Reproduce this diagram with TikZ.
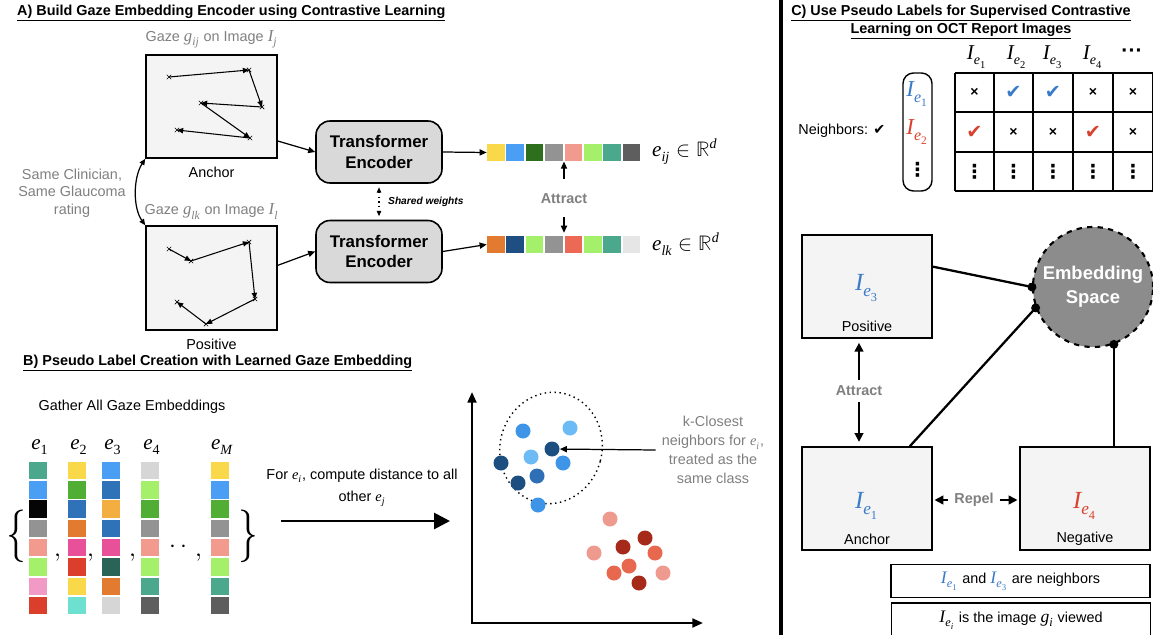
\documentclass[tikz,border=0pt]{standalone}
\usepackage{unicode-math}
\setmainfont{Liberation Sans}
\setmathfont{Latin Modern Math}
\setmathfont[range=it->up]{Liberation Serif Italic}
\setmathfont[range=up/num]{Liberation Serif}
\newfontfamily\symfont{DejaVu Sans}
\usetikzlibrary{arrows.meta,calc,positioning}
\definecolor{boxbg}{HTML}{F4F4F4}
\definecolor{encgray}{HTML}{D9D9D9}
\definecolor{txtgray}{HTML}{7F7F7F}
\definecolor{embgray}{HTML}{8C8C8C}
\definecolor{iblue}{HTML}{3A7BC8}
\definecolor{ired}{HTML}{D9412E}
\definecolor{cyel}{HTML}{F9D84A}
\definecolor{cblu}{HTML}{4A9FF5}
\definecolor{cdgr}{HTML}{2E6F1E}
\definecolor{cgry}{HTML}{939393}
\definecolor{csal}{HTML}{F29A8E}
\definecolor{clgr}{HTML}{A4F06A}
\definecolor{ctea}{HTML}{4BA88C}
\definecolor{cdgy}{HTML}{5E5E5E}
\definecolor{cora}{HTML}{E27A30}
\definecolor{cnav}{HTML}{1F4E82}
\definecolor{cred}{HTML}{EC6A55}
\definecolor{clgy}{HTML}{E6E6E6}
\definecolor{cblk}{HTML}{050505}
\definecolor{cpnk}{HTML}{F29AC6}
\definecolor{crd2}{HTML}{DB3E2A}
\definecolor{cgrn}{HTML}{4FAE33}
\definecolor{cmbl}{HTML}{3072B8}
\definecolor{cmag}{HTML}{E8509A}
\definecolor{ctur}{HTML}{6EE0CF}
\definecolor{camb}{HTML}{F2AE40}
\definecolor{cdtl}{HTML}{2A6358}
\definecolor{cgy2}{HTML}{D6D6D6}
\definecolor{dlb}{HTML}{6CBBF5}
\definecolor{dmb}{HTML}{3E95E8}
\definecolor{dnv}{HTML}{1C4F80}
\definecolor{dbl}{HTML}{2E6FB5}
\definecolor{dls}{HTML}{EF9A8E}
\definecolor{ddr}{HTML}{A52A1A}
\definecolor{dor}{HTML}{E8674F}
\newcommand{\pxu}{0.02cm}
\newcommand{\nx}{{\fontsize{8}{8}\selectfont\bfseries ×}}
\newcommand{\ckb}{{\symfont\fontsize{11}{11}\selectfont\color{iblue}✔}}
\newcommand{\ckr}{{\symfont\fontsize{11}{11}\selectfont\color{ired}✔}}
\newcommand{\vd}{{\symfont\fontsize{11}{11}\selectfont\bfseries ⋮}}

\begin{document}
\begin{tikzpicture}[x=\pxu,y=-\pxu,font=\fontsize{8.2}{10}\selectfont,
  gazebox/.style={draw,fill=boxbg,line width=0.9pt,inner sep=0pt,minimum width=131*\pxu,minimum height=103*\pxu},
  encbox/.style={draw,fill=encgray,rounded corners=8pt,line width=0.9pt,minimum width=126*\pxu,minimum height=62*\pxu,align=center,font=\fontsize{9.6}{11.5}\selectfont\bfseries},
  sq/.style={inner sep=0pt,minimum size=17.5*\pxu},
  gazeline/.style={line width=0.6pt,-{Triangle[length=3.5pt,width=3pt]}},
  arr/.style={line width=0.7pt,-{Triangle[length=4pt,width=3.5pt]}},
  arrb/.style={line width=1pt,-{Triangle[length=5pt,width=5pt]}},
  graytxt/.style={text=txtgray},
  att/.style={text=txtgray,font=\fontsize{8.2}{10}\selectfont\bfseries},
  dot/.style={circle,inner sep=0pt,minimum size=15*\pxu},
  imgbox/.style={draw,fill=boxbg,line width=0.9pt,inner sep=0pt,minimum width=130*\pxu,minimum height=103*\pxu},
  conn/.style={line width=1.3pt,-{Circle[length=5pt]},shorten >=-2.5pt},
  notebox/.style={draw,line width=0.9pt,inner sep=0pt,minimum width=259*\pxu,minimum height=33*\pxu},
  emath/.style={font=\fontsize{12}{14}\selectfont}]
  \useasboundingbox (0,0) rectangle (1153,635);

  %A) gaze encoder
  \node[anchor=west] (ttla) at (11,13) {\bfseries\underline{A) Build Gaze Embedding Encoder using Contrastive Learning}};
  \node[gazebox] (ga) at (211.5,106.5) {};
  \node[gazebox,minimum height=104*\pxu] (gp) at (211.5,278) {};
  \node[graytxt,above=0pt of ga] (gal) {Gaze {\fontsize{9.5}{10}\selectfont$g_{ij}$} on Image {\fontsize{9.5}{10}\selectfont$I_j$}};
  \node[graytxt,above=0pt of gp] (gpl) {Gaze {\fontsize{9.5}{10}\selectfont$g_{lk}$} on Image {\fontsize{9.5}{10}\selectfont$I_l$}};
  \node[below=1pt of ga] (anl) {Anchor};
  \node[below=1pt of gp] (pol) {Positive};
  \foreach \xa/\ya/\xb/\yb in {169/77/249/70,249/70/262/107,262/107/201/103,201/103/250/138,250/138/177/130,
    169/249/191/261,191/261/249/242,249/242/255/299,255/299/206/324,206/324/177/302}
    \draw[gazeline] (\xa,\ya) -- (\xb,\yb);
  \foreach \xa/\ya in {169/77,249/70,262/107,201/103,250/138,177/130,169/249,191/261,249/242,255/299,206/324,177/302}
    \draw[line width=0.4pt] (\xa,\ya) +(-2.2,-2.2) -- +(2.2,2.2) +(-2.2,2.2) -- +(2.2,-2.2);
  \draw[line width=0.7pt,{Triangle[length=3.5pt,width=3pt]}-{Triangle[length=3.5pt,width=3pt]}]
    (ga.south west) .. controls (133,178) and (133,208) .. (gp.north west);
  \node[graytxt,align=center] (clin) at (72,193) {Same Clinician,\\Same Glaucoma\\rating};
  \node[encbox] (enc1) at (379,152) {Transformer\\Encoder};
  \node[encbox] (enc2) at (379,251.5) {Transformer\\Encoder};
  \draw[arr] ($(ga.south east)!0.17!(ga.north east)$) -- (enc1.west);
  \draw[arr] ($(gp.south east)!0.62!(gp.north east)$) -- (enc2.west);
  \draw[dotted,line width=0.6pt,{Triangle[length=3pt,width=2.5pt]}-{Triangle[length=3pt,width=2.5pt]},shorten <=2pt,shorten >=2pt] (enc1.south) -- (enc2.north);
  \node[anchor=west,font=\fontsize{5.8}{7}\selectfont\bfseries\itshape] (sw) at (382,202) {Shared weights};
  \foreach \c [count=\i] in {cyel,cblu,cdgr,cgry,csal,clgr,ctea,cdgy}
    \node[sq,fill=\c] (va\i) at ({495.75+19.4*(\i-1)},152.5) {};
  \foreach \c [count=\i] in {cora,cnav,clgr,cgry,cred,clgr,ctea,clgy}
    \node[sq,fill=\c] (vb\i) at ({495.75+19.4*(\i-1)},244.5) {};
  \draw[arr] (enc1.east) -- (va1.west);
  \draw[arr] (enc2.east) -- (vb1.west);
  \node[anchor=west,font=\fontsize{12}{14}\selectfont] (ea) at (646,152) {$e_{ij}\in\mathbb{R}^d$};
  \node[anchor=west,font=\fontsize{12}{14}\selectfont] (eb) at (646,244) {$e_{lk}\in\mathbb{R}^d$};
  \node[att] (atta) at (564,199) {Attract};
  \draw[arr,shorten <=5pt] (atta.north) -- (atta.north |- va4.south);
  \draw[arr,shorten <=4pt,shorten >=1.5pt] (atta.south) -- (atta.south |- vb4.north);

  %B) pseudo labels
  \node[anchor=west] (ttlb) at (17,363) {\bfseries\underline{B) Pseudo Label Creation with Learned Gaze Embedding}};
  \node (gath) at (132,407) {Gather All Gaze Embeddings};
  \foreach \xc/\lb/\clist [count=\k] in {38/1/{ctea,cblu,cblk,cgry,csal,clgr,cpnk,crd2},
      77/2/{cyel,cgrn,cmbl,cora,cmag,crd2,cyel,ctur},
      111/3/{cblu,cmbl,camb,cmbl,cmag,cdtl,cora,cgy2},
      150/4/{cgy2,clgr,cgrn,cgry,csal,clgr,ctea,cdgy},
      220/M/{cyel,cblu,cgrn,cgry,csal,clgr,ctea,cdgy}} {
    \node[emath] (el\k) at (\xc+2,447) {$e_{\lb}$};
    \foreach \c [count=\j] in \clist
      \node[sq,fill=\c] (ec\k-\j) at (\xc,{470.5+19.3*(\j-1)}) {};
  }
  \node[font=\fontsize{30}{30}\selectfont,xscale=0.75] (lbr) at (16,536) {$\{$};
  \node[font=\fontsize{30}{30}\selectfont,xscale=0.75] (rbr) at (248,536) {$\}$};
  \foreach \xx [count=\k] in {58,91,133,199}
    \node[anchor=base,font=\fontsize{14}{14}\selectfont] (cm\k) at (\xx,556) {$,$};
  \node[anchor=base,font=\fontsize{14}{14}\selectfont] (ldt) at (178,552) {$\cdot\,\cdot$};
  \node[align=center,font=\fontsize{8.2}{12.5}\selectfont] (fortxt) at (362,488) {For $e_i$, compute distance to all\\other $e_j$};
  \coordinate (bs) at (281,521);
  \coordinate (be) at (450,521);
  \draw[line width=1.6pt,-{Triangle[length=9pt,width=9pt]}] (bs) -- (be);
  %embedding plot
  \coordinate (org) at (472,623);
  \draw[line width=1.3pt,{Triangle[length=6pt,width=5pt]}-{Triangle[length=6pt,width=5pt]}] (472,392) -- (org) -- (703,623);
  \draw[dotted,line width=0.8pt,rotate around={-15:(551,448)}] (551,448) ellipse [x radius=51,y radius=56];
  \foreach \xx/\yy/\c [count=\k] in {523/431/dmb,570/428/dlb,552/449/dnv,531/457/dlb,563/463/dmb,501/463/dnv,537/476/dbl,518/483/dnv,538/505/dmb,
      610/519/dls,645/538/ddr,623/547/ddr,594/553/dls,655/553/dor,629/566/dor,614/573/dor,663/573/dls,639/583/ddr}
    \node[dot,fill=\c] (dp\k) at (\xx,\yy) {};
  \node[graytxt,align=center,font=\fontsize{8.2}{10.8}\selectfont] (kc) at (713,450) {k-Closest\\neighbors for $e_i$,\\treated as the\\same class};
  \draw[arr] (kc.west) -- (dp3);

  %separator
  \draw[line width=2.2pt] (781,0) -- (781,635);

  %C) supervised contrastive
  \node[align=center] (ttlc) at (961,22) {\bfseries\underline{C) Use Pseudo Labels for Supervised Contrastive}\\\bfseries\underline{Learning on OCT Report Images}};
  \foreach \hx [count=\k] in {977,1017,1053,1093}
    \node[emath] (hd\k) at (\hx,57) {$I_{e_\k}$};
  \node[font=\fontsize{12}{12}\selectfont\bfseries] (hd5) at (1132,53) {···};
  \foreach \xx in {955,994,1033,1073,1113,1152.5}
    \draw[line width=0.8pt] (\xx,73) -- (\xx,191);
  \foreach \yy in {73,112,152,191}
    \draw[line width=0.8pt] (955,\yy) -- (1153,\yy);
  \foreach \cx/\ca/\cb [count=\k] in {974.5/\nx/\ckr,1013.5/\ckb/\nx,1053/\ckb/\nx,1093/\nx/\ckr,1133/\nx/\nx} {
    \node (ca\k) at (\cx,92.5) {\ca};
    \node (cb\k) at (\cx,132) {\cb};
    \node (cc\k) at (\cx,171.5) {\vd};
  }
  \node[draw,rounded corners=6pt,line width=0.8pt,minimum width=29*\pxu,minimum height=118*\pxu] (rowbox) at (917.5,132) {};
  \node[font=\fontsize{13}{15}\selectfont,text=iblue] (rw1) at (917.5,94) {$I_{e_1}$};
  \node[font=\fontsize{13}{15}\selectfont,text=ired] (rw2) at (917.5,132) {$I_{e_2}$};
  \node (rw3) at (917.5,170) {\vd};
  \node (nbr) at (842,131) {Neighbors: {\symfont ✔}};
  \node[imgbox] (pos) at (867,286.5) {};
  \node[imgbox] (anc) at (867,498.5) {};
  \node[imgbox] (neg) at (1085,498.5) {};
  \node[font=\fontsize{14}{16}\selectfont,text=iblue] (posI) at (867,288) {$I_{e_3}$};
  \node[font=\fontsize{14}{16}\selectfont,text=iblue] (ancI) at (867,506) {$I_{e_1}$};
  \node[font=\fontsize{14}{16}\selectfont,text=ired] (negI) at (1085,506) {$I_{e_4}$};
  \node (posL) at (867,326) {Positive};
  \node (ancL) at (867,539) {Anchor};
  \node (negL) at (1085,539) {Negative};
  \node[circle,draw,dashed,line width=1.2pt,fill=embgray,text=white,minimum size=120*\pxu,inner sep=0pt,align=center,
    font=\fontsize{10.5}{13.5}\selectfont\bfseries] (emb) at (1093,287) {Embedding\\Space};
  \draw[conn] ([yshift=11.3pt]pos.east) -- (emb.west);
  \draw[conn] ([xshift=24.4pt]anc.north) -- (emb.200);
  \draw[conn] (emb.290 |- neg.north) -- (emb.290);
  \node[att] (attc) at (859,391) {Attract};
  \draw[arrb,shorten >=2.3pt] (attc.north) -- (pos.south -| attc);
  \draw[arrb,shorten >=2.5pt] (attc.south) -- (anc.north -| attc);
  \node[att] (rep) at (974,500) {Repel};
  \draw[arrb,shorten >=1pt] (rep.west) -- (anc.east |- rep);
  \draw[arrb,shorten >=1pt] (rep.east) -- (neg.west |- rep);
  \node[notebox] (nb1) at (1020.5,581) {{\fontsize{10}{12}\selectfont\color{iblue}$I_{e_1}$} and {\fontsize{10}{12}\selectfont\color{iblue}$I_{e_3}$} are neighbors};
  \node[notebox,minimum height=34*\pxu] (nb2) at (1021,620) {{\fontsize{10}{12}\selectfont$I_{e_i}$} is the image {\fontsize{10}{12}\selectfont$g_i$} viewed};
\end{tikzpicture}
\end{document}
